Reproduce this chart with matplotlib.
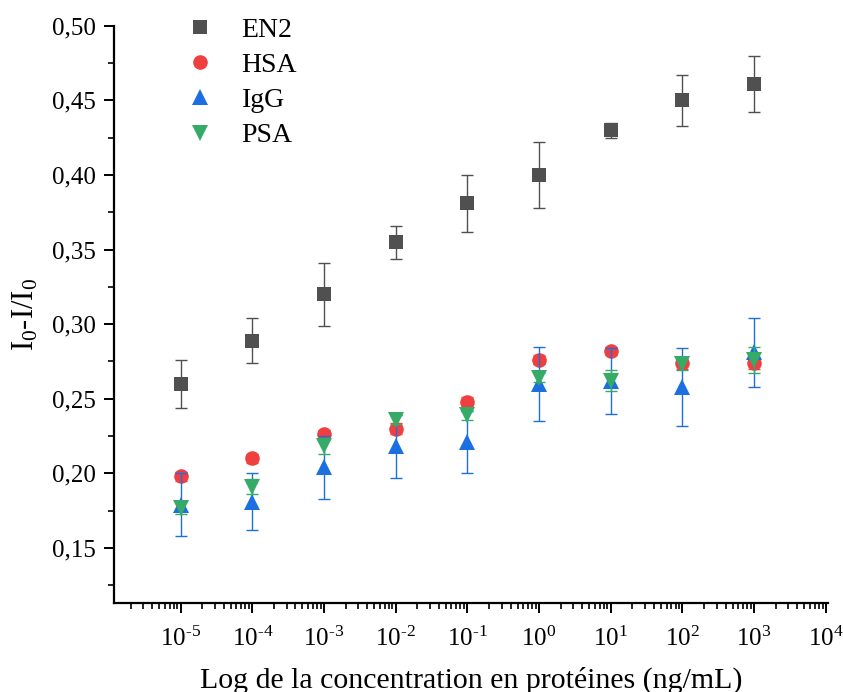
import numpy as np
import matplotlib
matplotlib.use("Agg")
import matplotlib.pyplot as plt
from matplotlib.lines import Line2D
from matplotlib.ticker import LogLocator, MultipleLocator, FuncFormatter, NullFormatter

plt.rcParams['font.family'] = ['Liberation Serif', 'DejaVu Serif']
plt.rcParams['mathtext.fontset'] = 'custom'
plt.rcParams['mathtext.rm'] = 'Liberation Serif'
plt.rcParams['mathtext.it'] = 'Liberation Serif:italic'

# concentrations (ng/mL)
conc = [1e-5, 1e-4, 1e-3, 1e-2, 1e-1, 1e0, 1e1, 1e2, 1e3]

en2 = [0.260, 0.289, 0.320, 0.355, 0.381, 0.400, 0.430, 0.450, 0.461]
en2_err = [0.016, 0.015, 0.021, 0.011, 0.019, 0.022, 0.005, 0.017, 0.019]

hsa = [0.198, 0.210, 0.226, 0.230, 0.248, 0.276, 0.282, 0.274, 0.274]
hsa_err = [0.003, 0.003, 0.003, 0.004, 0.003, 0.003, 0.003, 0.004, 0.004]

igg = [0.179, 0.181, 0.204, 0.218, 0.221, 0.260, 0.262, 0.258, 0.281]
igg_err = [0.021, 0.019, 0.021, 0.021, 0.021, 0.025, 0.022, 0.026, 0.023]

psa = [0.177, 0.191, 0.218, 0.236, 0.239, 0.264, 0.262, 0.273, 0.276]
psa_err = [0.004, 0.005, 0.005, 0.003, 0.003, 0.003, 0.007, 0.004, 0.009]

series = [
    ("EN2", en2, en2_err, "s", "#505050", 9.5),
    ("HSA", hsa, hsa_err, "o", "#ef3f3f", 10.5),
    ("IgG", igg, igg_err, "^", "#1b6fe0", 11),
    ("PSA", psa, psa_err, "v", "#35ab67", 11),
]

fig = plt.figure(figsize=(8.43, 6.92), dpi=100)
ax = fig.add_axes([0.1352, 0.1286, 0.847, 0.834])

handles = []
for name, y, err, mk, col, ms in series:
    ax.plot(conc, y, linestyle='none', marker=mk, color=col, markersize=ms,
            markeredgewidth=0)
    ax.errorbar(conc, y, yerr=err, fmt='none', ecolor=col, elinewidth=1,
                capsize=4, capthick=1)
    handles.append(Line2D([], [], linestyle='none', marker=mk, color=col,
                          markersize=ms, markeredgewidth=0, label=name))

ax.set_xscale('log')
ax.set_xlim(10**-5.93, 10**4.03)
ax.set_ylim(0.113, 0.50)


def logfmt(v, p):
    e = int(round(np.log10(v)))
    s = str(e).replace('-', '\u2010')
    return '$\\mathregular{10^{' + s + '}}$'


ax.xaxis.set_major_locator(LogLocator(base=10, numticks=20))
ax.xaxis.set_major_formatter(FuncFormatter(logfmt))
ax.xaxis.set_minor_locator(LogLocator(base=10, subs=np.arange(2, 10), numticks=20))
ax.xaxis.set_minor_formatter(NullFormatter())
ax.yaxis.set_major_locator(MultipleLocator(0.05))
ax.yaxis.set_minor_locator(MultipleLocator(0.025))
ax.yaxis.set_major_formatter(FuncFormatter(lambda v, p: f"{v:.2f}".replace('.', ',')))

for s in ['top', 'right']:
    ax.spines[s].set_visible(False)
for s in ['left', 'bottom']:
    ax.spines[s].set_linewidth(1.6)

ax.tick_params(axis='both', which='major', direction='out', length=7, width=1.4,
               labelsize=18, pad=6)
ax.tick_params(axis='both', which='minor', direction='out', length=4, width=1.2)
ax.tick_params(axis='x', which='major', pad=10)

ax.set_xlabel("Log de la concentration en protéines (ng/mL)", fontsize=21.5, labelpad=11)
ax.set_ylabel("$\\mathregular{I_0}$-I/$\\mathregular{I_0}$", fontsize=22, labelpad=8)

ax.legend(handles=handles, loc='upper left', bbox_to_anchor=(0.062, 1.058), frameon=False,
          fontsize=20, handletextpad=0.9, labelspacing=0.35, handlelength=1.2)

fig.savefig("out.png", dpi=100)
